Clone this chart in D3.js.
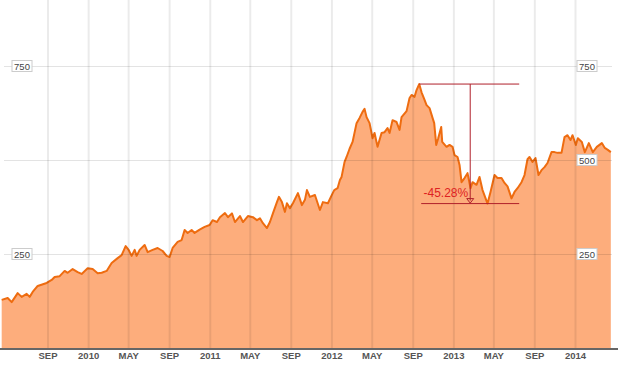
<!DOCTYPE html>
<html>
<head>
<meta charset="utf-8">
<script src="https://cdn.jsdelivr.net/npm/d3@7"></script>
<style>
	body { margin: 0; background: #fff; }
	svg { display: block; font-family: Arial, "Liberation Sans", sans-serif; }
</style>
</head>
<body>
<div class="chart"></div>
<script>

var dates = [
	"2009-04-15","2009-05-03","2009-05-15","2009-06-02","2009-06-14","2009-06-29","2009-07-08","2009-07-17",
	"2009-08-01","2009-08-28","2009-09-12","2009-09-21","2009-10-06","2009-10-21","2009-10-30","2009-11-14",
	"2009-11-29","2009-12-11","2009-12-29","2010-01-13","2010-01-28","2010-02-09","2010-02-24","2010-03-11",
	"2010-03-29","2010-04-10","2010-04-22","2010-05-01","2010-05-10","2010-05-19","2010-05-25","2010-06-03",
	"2010-06-18","2010-06-27","2010-07-12","2010-07-27","2010-08-11","2010-08-23","2010-09-01","2010-09-10",
	"2010-09-25","2010-10-07","2010-10-16","2010-10-25","2010-11-06","2010-11-15","2010-11-30","2010-12-15",
	"2010-12-30","2011-01-08","2011-01-21","2011-01-30","2011-02-14","2011-02-23","2011-03-07","2011-03-16",
	"2011-03-31","2011-04-09","2011-04-24","2011-05-09","2011-05-21","2011-05-30","2011-06-08","2011-06-20",
	"2011-06-29","2011-07-08","2011-07-20","2011-07-26","2011-08-04","2011-08-13","2011-08-19","2011-08-28",
	"2011-09-06","2011-09-21","2011-10-03","2011-10-12","2011-10-18","2011-10-27","2011-11-11","2011-11-26",
	"2011-12-05","2011-12-20","2011-12-30","2012-01-08","2012-01-18","2012-01-25","2012-01-30","2012-02-08",
	"2012-02-14","2012-02-23","2012-03-03","2012-03-15","2012-03-24","2012-04-02","2012-04-08","2012-04-14",
	"2012-04-23","2012-05-02","2012-05-08","2012-05-17","2012-05-29","2012-06-07","2012-06-16","2012-06-22",
	"2012-07-01","2012-07-13","2012-07-22","2012-07-28","2012-08-12","2012-08-21","2012-08-27","2012-09-05",
	"2012-09-11","2012-09-19","2012-09-26","2012-10-05","2012-10-11","2012-10-20","2012-10-29","2012-11-03",
	"2012-11-09","2012-11-15","2012-11-24","2012-11-27","2012-12-10","2012-12-19","2012-12-28","2013-01-03",
	"2013-01-12","2013-01-18","2013-01-24","2013-02-02","2013-02-11","2013-02-20","2013-02-26","2013-03-10",
	"2013-03-19","2013-03-28","2013-04-12","2013-04-21","2013-05-03","2013-05-12","2013-05-24","2013-06-02",
	"2013-06-11","2013-06-23","2013-07-02","2013-07-11","2013-07-23","2013-08-01","2013-08-10","2013-08-16",
	"2013-08-25","2013-09-03","2013-09-12","2013-09-21","2013-09-30","2013-10-09","2013-10-21","2013-10-30",
	"2013-11-08","2013-11-20","2013-11-29","2013-12-08","2013-12-17","2013-12-23","2014-01-02","2014-01-08",
	"2014-01-20","2014-01-29","2014-02-10","2014-02-22","2014-03-06","2014-03-21","2014-03-30","2014-04-08",
	"2014-04-17"
];

var prices = [
	128,133,122,146,136,144,136,149,
	165,173,181,189,191,205,200,210,
	202,197,212,210,199,200,205,226,
	239,247,271,261,245,261,245,261,
	274,255,261,266,258,245,242,266,
	282,287,314,306,314,306,315,322,
	327,340,335,348,359,348,358,335,
	351,335,351,348,340,345,332,319,
	335,358,388,402,388,362,385,372,
	385,412,380,394,420,402,407,367,
	388,385,404,420,425,447,455,495,
	508,530,548,598,612,628,636,614,
	598,558,572,535,572,574,585,572,
	606,601,580,614,630,665,673,668,
	686,702,680,660,646,638,612,598,
	540,558,588,548,535,540,535,513,
	508,487,441,452,465,425,441,434,
	455,420,384.1,415,460,452,452,439,
	430,398,415,425,441,460,502,508,
	495,505,460,473,481,492,521,521,
	519,519,561,566,553,566,540,558,
	548,521,545,521,535,545,532,527,
	521
];

var tickDates = [
	"2009-09-01","2010-01-01","2010-05-01","2010-09-01","2011-01-01","2011-05-01","2011-09-01",
	"2012-01-01","2012-05-01","2012-09-01","2013-01-01","2013-05-01","2013-09-01","2014-01-01"
];
var leftTicks = [250, 750];
var rightTicks = [250, 500, 750];

var w = 624;
var h = 377;

var parse = d3.timeParse("%Y-%m-%d");
var data = dates.map(function(d, i){ return { date: parse(d), val: prices[i] }; });

var x = d3.scaleTime()
	.domain([parse("2009-09-01"), parse("2014-01-01")])
	.range([48, 575.5]);

var y = d3.scaleLinear()
	.domain([0, 750])
	.range([348, 66]);

var svg = d3.select(".chart")
	.append("svg")
	.attr("width", w)
	.attr("height", h);

// area + line
svg.append("path")
	.datum(data)
	.attr("fill", "#fdad7c")
	.attr("d", d3.area()
		.x(function(d){ return x(d.date); })
		.y0(y(0))
		.y1(function(d){ return y(d.val); }));

svg.append("path")
	.datum(data)
	.attr("fill", "none")
	.attr("stroke", "#ee6c10")
	.attr("stroke-width", 2)
	.attr("stroke-linejoin", "round")
	.attr("d", d3.line()
		.x(function(d){ return x(d.date); })
		.y(function(d){ return y(d.val); }));

// grid
var ticks = tickDates.map(parse);

svg.selectAll("line.vgrid")
	.data(ticks)
	.enter()
	.append("line")
	.attr("class", "vgrid")
	.attr("x1", function(d){ return x(d); })
	.attr("x2", function(d){ return x(d); })
	.attr("y1", 0)
	.attr("y2", y(0))
	.attr("stroke", "#000")
	.attr("stroke-opacity", 0.08)
	.attr("stroke-width", 2);

svg.selectAll("line.hgrid")
	.data(rightTicks)
	.enter()
	.append("line")
	.attr("class", "hgrid")
	.attr("x1", 4)
	.attr("x2", 612)
	.attr("y1", function(d){ return Math.round(y(d)) + 0.5; })
	.attr("y2", function(d){ return Math.round(y(d)) + 0.5; })
	.attr("stroke", "#000")
	.attr("stroke-opacity", 0.11);

// x axis
svg.append("line")
	.attr("x1", 0)
	.attr("x2", 618)
	.attr("y1", y(0) + 1)
	.attr("y2", y(0) + 1)
	.attr("stroke", "#333")
	.attr("stroke-width", 1.5);

var fmt = function(d){
	return d.getMonth() === 0 ? d3.timeFormat("%Y")(d) : d3.timeFormat("%b")(d).toUpperCase();
};

svg.selectAll("text.xlabel")
	.data(ticks)
	.enter()
	.append("text")
	.attr("class", "xlabel")
	.attr("x", function(d){ return x(d); })
	.attr("y", 359)
	.attr("text-anchor", "middle")
	.attr("font-size", "9.5px")
	.attr("font-weight", "bold")
	.attr("fill", "#555")
	.text(fmt);

// boxed y labels
function yLabels(values, cx){
	var g = svg.selectAll("g.yl" + cx)
		.data(values)
		.enter()
		.append("g")
		.attr("transform", function(d){ return "translate(" + cx + "," + Math.round(y(d)) + ")"; });
	g.append("rect")
		.attr("x", -10)
		.attr("y", -5.5)
		.attr("width", 20)
		.attr("height", 11)
		.attr("fill", "#fff")
		.attr("stroke", "#ccc")
		.attr("stroke-width", 1);
	g.append("text")
		.attr("text-anchor", "middle")
		.attr("y", 3.5)
		.attr("font-size", "9.5px")
		.attr("fill", "#444")
		.text(function(d){ return d; });
}
yLabels(leftTicks, 22);
yLabels(rightTicks, 587);

// drawdown annotation
var peak = d3.greatest(data, function(d){ return d.val; });
var after = data.filter(function(d){ return d.date > peak.date; });
var trough = d3.least(after, function(d){ return d.val; });
var px = x(peak.date);
var py = y(peak.val);
var ty = y(trough.val);
var mid = px + 51;
var red = "#b0202a";

svg.append("line")
	.attr("x1", px).attr("x2", px + 100)
	.attr("y1", py).attr("y2", py)
	.attr("stroke", red);
svg.append("line")
	.attr("x1", px + 2).attr("x2", px + 100)
	.attr("y1", ty).attr("y2", ty)
	.attr("stroke", red);
svg.append("line")
	.attr("x1", mid).attr("x2", mid)
	.attr("y1", py).attr("y2", ty - 3)
	.attr("stroke", red);
svg.append("path")
	.attr("d", "M" + (mid - 3.5) + "," + (ty - 5) + "L" + (mid + 3.5) + "," + (ty - 5) + "L" + mid + "," + (ty - 0.5) + "Z")
	.attr("fill", "none")
	.attr("stroke", red);

var pct = ((trough.val / peak.val - 1) * 100).toFixed(2) + "%";

svg.append("text")
	.attr("x", mid - 2)
	.attr("y", ty - 7)
	.attr("text-anchor", "end")
	.attr("font-size", "12px")
	.attr("fill", "#dd2222")
	.text(pct);

</script>
</body>
</html>
